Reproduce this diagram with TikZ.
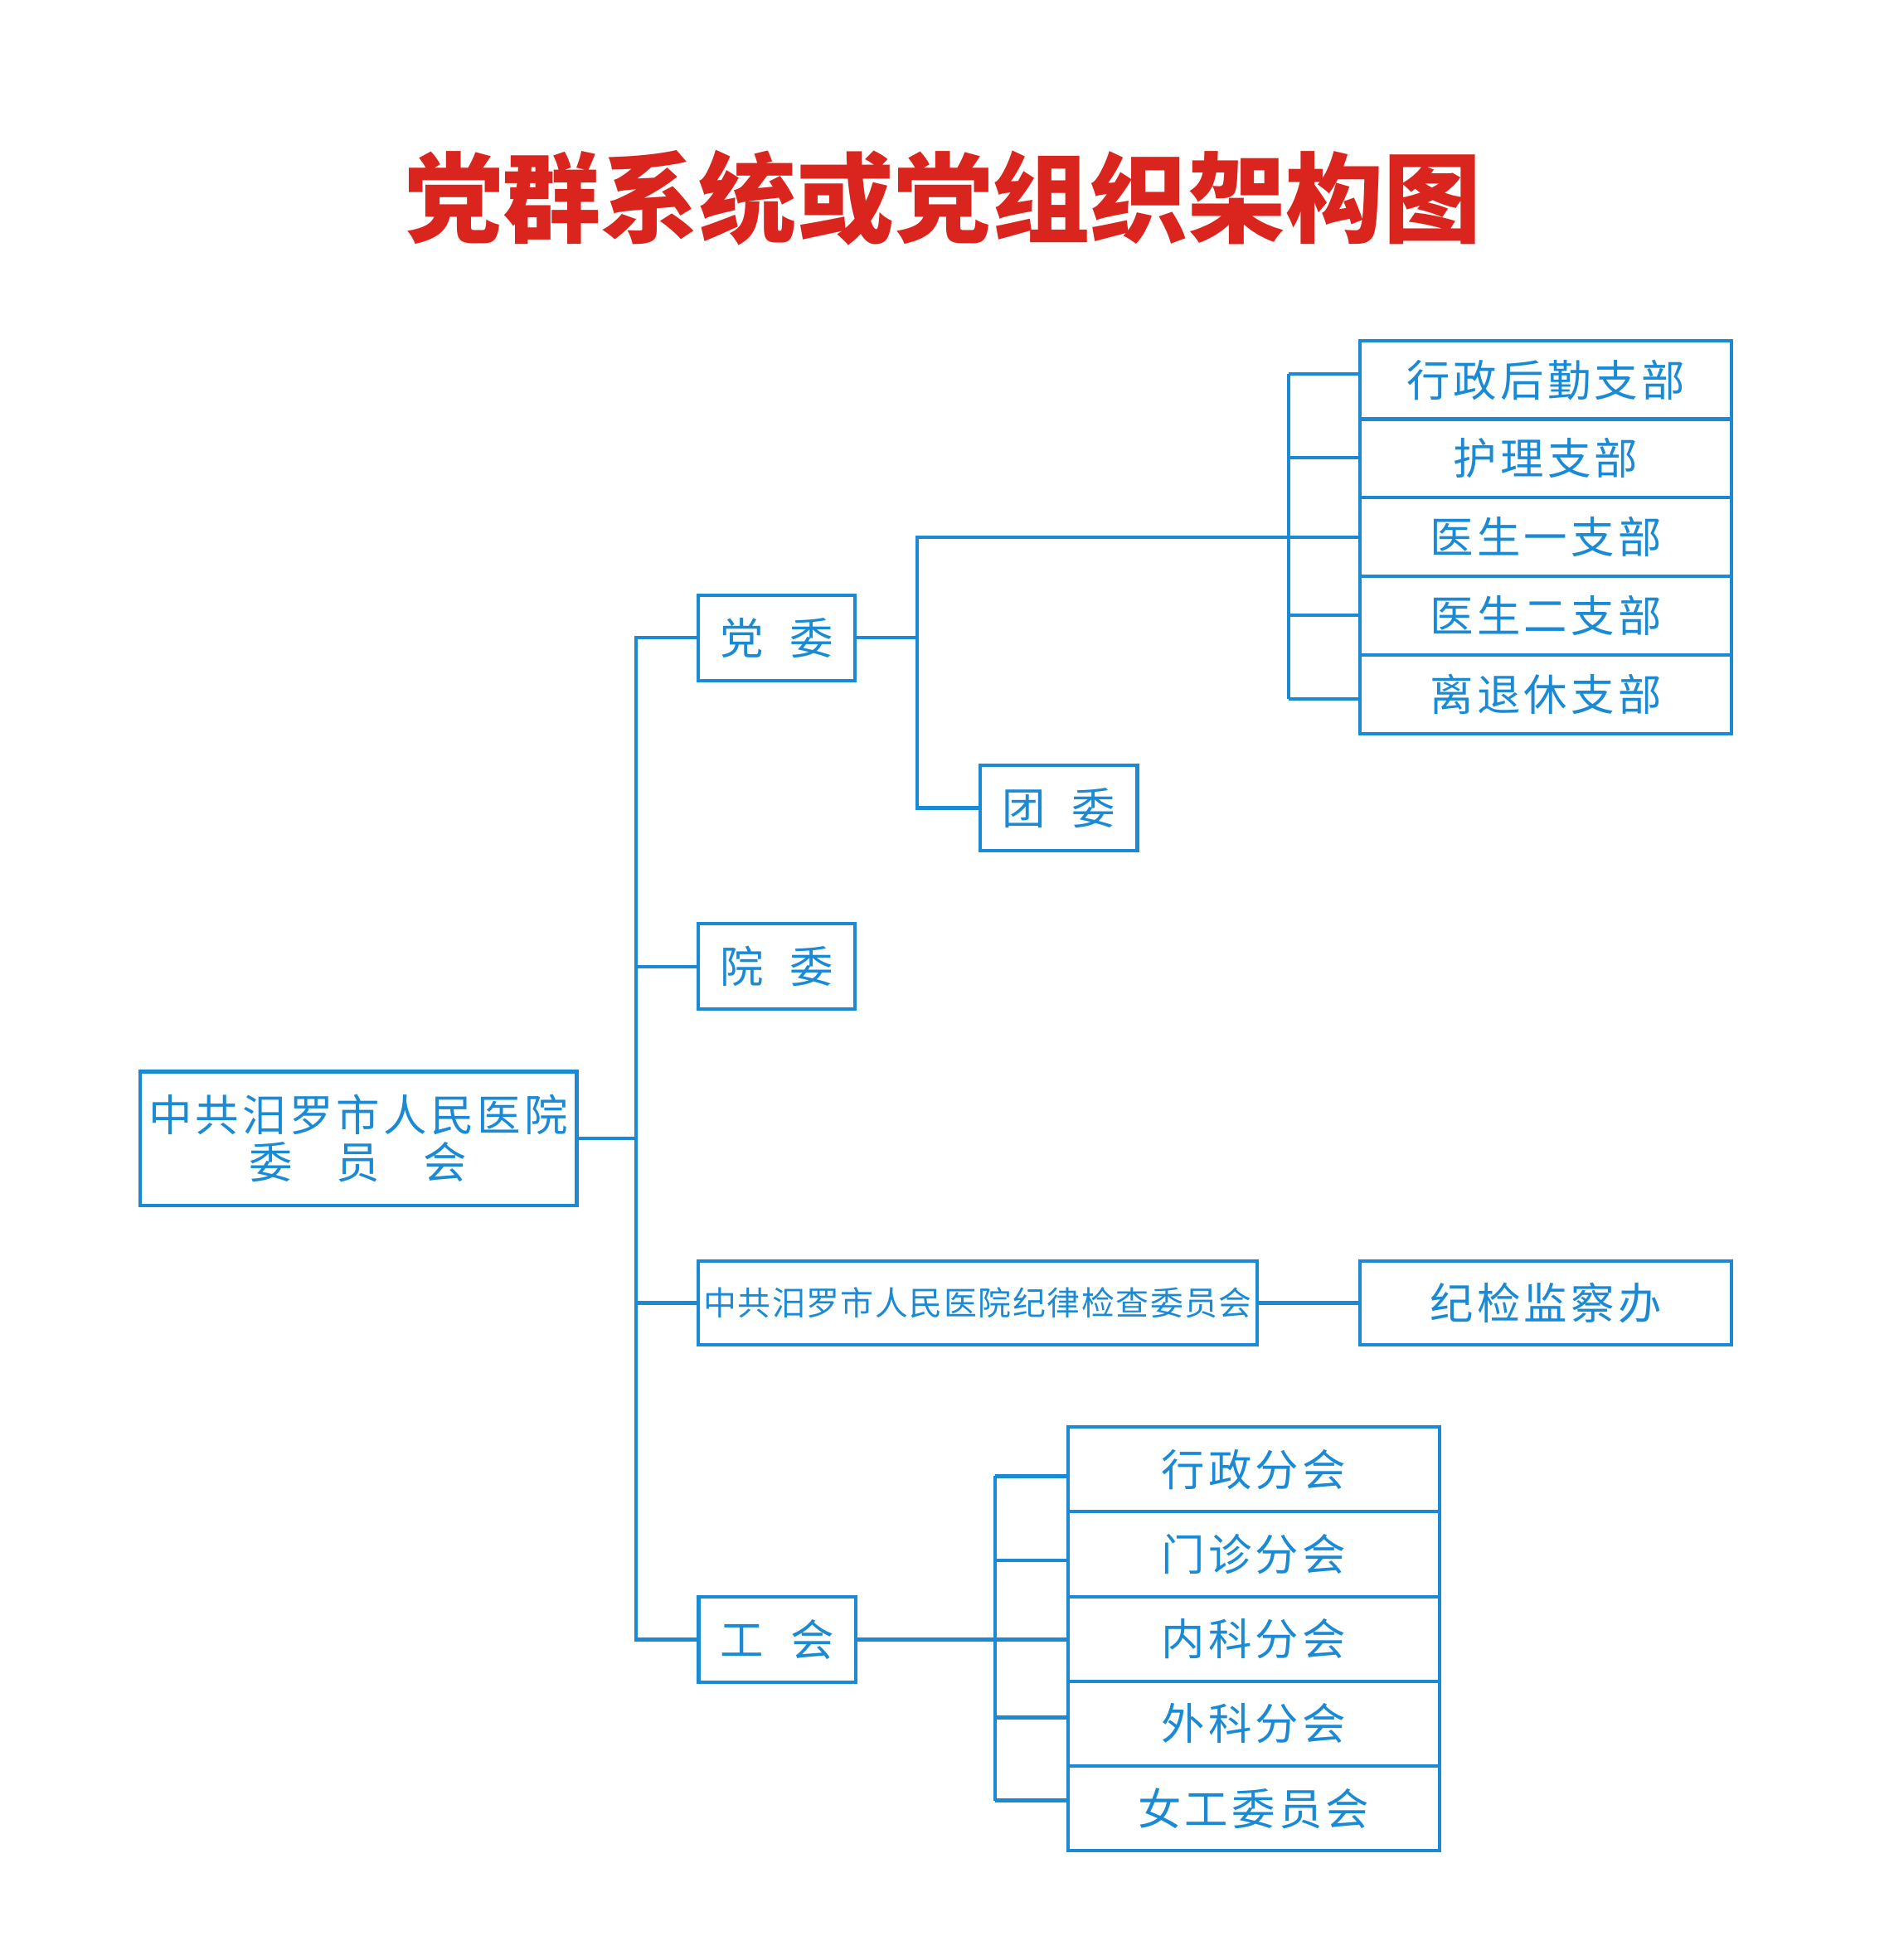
\documentclass[tikz,border=0pt]{standalone}
\usepackage{fontspec}
\newfontfamily\cjk{Noto Sans CJK SC}
\newfontfamily\cjkw[LetterSpace=8]{Noto Sans CJK SC}
\usetikzlibrary{positioning}
\definecolor{ln}{HTML}{1A8AD4}
\definecolor{ttl}{HTML}{D9251D}
\tikzset{
  box/.style={draw=ln, line width=0.8pt, text=ln, inner sep=0pt, outer sep=0pt, font=\cjkw\fontsize{10}{12}\selectfont, align=center},
  smallbox/.style={box, minimum width=1.27cm, minimum height=0.69cm},
  wide/.style={box, minimum width=3cm, minimum height=0.635cm},
  uni/.style={box, minimum width=3cm, minimum height=0.685cm},
  link/.style={draw=ln, line width=0.8pt}
}
\begin{document}
\begin{tikzpicture}
\useasboundingbox (0,0) rectangle (15.3,-15.84);
\node [text=ttl, font=\cjk\bfseries\fontsize{22.5}{26}\selectfont] (title) at (7.62,-1.6) {党群系统或党组织架构图};

\node [box, minimum width=3.53cm, minimum height=1.08cm] (root) at (2.895,-9.2) {中共汨罗市人民医院\\[-1pt]委\quad 员\quad 会};
\node [smallbox] (dw) at (6.275,-5.155) {党\ \ 委};
\node [smallbox] (yw) at (6.275,-7.81) {院\ \ 委};
\node [box, minimum width=4.52cm, minimum height=0.68cm, font=\cjk\fontsize{7.6}{10}\selectfont\addfontfeature{LetterSpace=4}] (jw) at (7.9,-10.53) {中共汨罗市人民医院纪律检查委员会};
\node [smallbox] (gh) at (6.28,-13.25) {工\ \ 会};
\node [smallbox] (tw) at (8.555,-6.53) {团\ \ 委};
\node [wide, minimum height=0.68cm] (jj) at (12.49,-10.53) {纪检监察办};

% 支部
\node [wide] (b1) at (12.49,-3.07) {行政后勤支部};
\node [wide, below=0pt of b1] (b2) {护理支部};
\node [wide, below=0pt of b2] (b3) {医生一支部};
\node [wide, below=0pt of b3] (b4) {医生二支部};
\node [wide, below=0pt of b4] (b5) {离退休支部};

% 分会
\node [uni] (u1) at (10.13,-11.875) {行政分会};
\node [uni, below=0pt of u1] (u2) {门诊分会};
\node [uni, below=0pt of u2] (u3) {内科分会};
\node [uni, below=0pt of u3] (u4) {外科分会};
\node [uni, below=0pt of u4] (u5) {女工委员会};

% spine
\coordinate (sp) at (5.14,-9.2);
\draw [link] (root.east) -- (sp);
\draw [link] (dw.west) -| (sp) |- (gh.west);
\draw [link] (sp |- yw.west) -- (yw.west);
\draw [link] (sp |- jw.west) -- (jw.west);
\draw [link] (jw.east) -- (jj.west);

% 党委 branch
\coordinate (dk) at (7.41,-5.155);
\draw [link] (dw.east) -- (dk);
\draw [link] (b3.west) -| (dk) |- (tw.west);
\coordinate (bk) at (10.41,-3.02);
\draw [link] (bk) -- (10.41,-5.65);
\foreach \b/\y in {b1/-3.02,b2/-3.7,b4/-4.97,b5/-5.65}
  \draw [link] (10.41,\y) -- (\b.west |- 0,\y);

% 工会 branch
\draw [link] (gh.east) -- (gh.east -| u3.west);
\draw [link] (8.04,-11.93) -- (8.04,-14.55);
\foreach \u/\y in {u1/-11.93,u2/-12.61,u4/-13.88,u5/-14.55}
  \draw [link] (8.04,\y) -- (\u.west |- 0,\y);
\end{tikzpicture}
\end{document}
